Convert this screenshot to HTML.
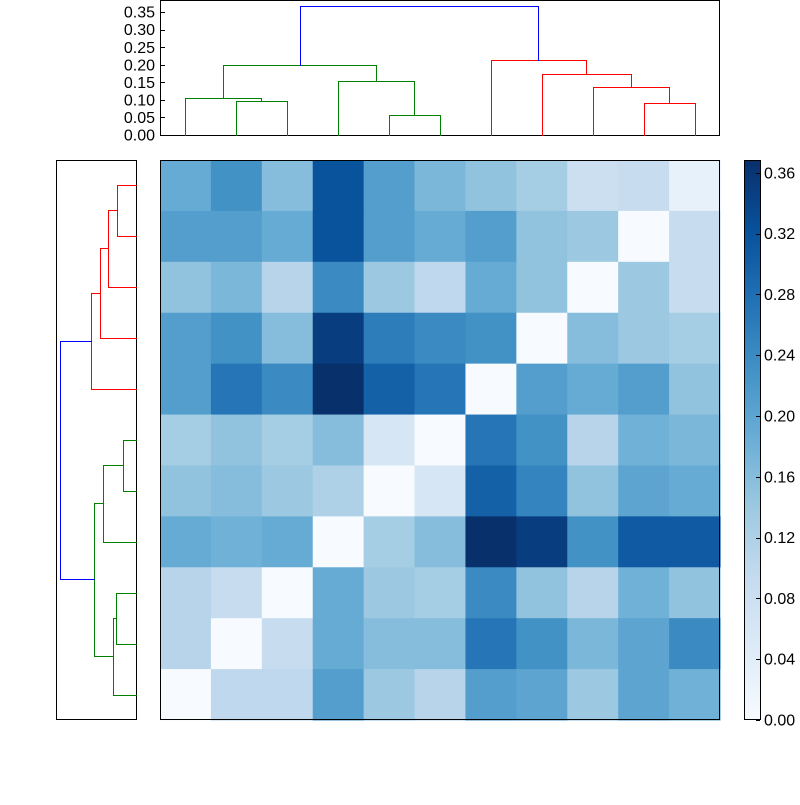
<!DOCTYPE html>
<html><head><meta charset="utf-8"><style>
body{margin:0;background:#fff;}
svg text{font-family:"Liberation Sans","DejaVu Sans",sans-serif;font-size:16px;fill:#000;}
</style></head><body>
<svg id="s" width="800" height="800" xmlns="http://www.w3.org/2000/svg">
<rect width="800" height="800" fill="#fff"/>
<g id="heat"></g>
<defs><linearGradient id="cb" x1="0" y1="1" x2="0" y2="0">
<stop offset="0" stop-color="#f7fbff"/><stop offset="0.125" stop-color="#deebf7"/><stop offset="0.25" stop-color="#c6dbef"/><stop offset="0.375" stop-color="#9ecae1"/><stop offset="0.5" stop-color="#6baed6"/><stop offset="0.625" stop-color="#4292c6"/><stop offset="0.75" stop-color="#2171b5"/><stop offset="0.875" stop-color="#08519c"/><stop offset="1" stop-color="#08306b"/></linearGradient></defs>
<rect x="160.5" y="160.5" width="559" height="559" fill="none" stroke="#000"/>
<rect x="160.5" y="0.5" width="559" height="135" fill="none" stroke="#000"/>
<rect x="56.5" y="160.5" width="80" height="559" fill="none" stroke="#000"/>
<g id="dend"></g>
<g id="tt"></g>
<rect x="744.5" y="160.5" width="16" height="559" fill="url(#cb)" stroke="#000"/>
<g id="cbt"></g>
</svg>
<script>
var V=[[.19,.23,.16,.32,.21,.17,.15,.11,.06,.07,.01],
[.21,.21,.19,.32,.21,.19,.21,.13,.12,0,.07],
[.13,.17,.09,.24,.12,.08,.19,.15,0,.12,.07],
[.21,.23,.16,.35,.26,.24,.23,0,.16,.12,.11],
[.21,.27,.24,.37,.30,.27,0,.21,.19,.21,.15],
[.11,.15,.11,.14,.04,0,.27,.23,.09,.18,.17],
[.13,.14,.12,.10,0,.04,.30,.25,.13,.20,.19],
[.19,.18,.19,0,.11,.14,.37,.35,.23,.31,.31],
[.09,.07,0,.19,.12,.11,.24,.15,.09,.18,.15],
[.09,0,.07,.19,.14,.14,.27,.23,.17,.20,.24],
[0,.08,.08,.21,.12,.09,.21,.20,.12,.20,.18]];
var st=["f7fbff","deebf7","c6dbef","9ecae1","6baed6","4292c6","2171b5","08519c","08306b"].map(h=>[0,2,4].map(i=>parseInt(h.substr(i,2),16)));
function col(v){if(v>0&&v<0.15)v+=0.02;var t=Math.max(0,Math.min(1,v/0.3686))*8,i=Math.min(7,Math.floor(t)),f=t-i;
return "rgb("+[0,1,2].map(k=>Math.round(st[i][k]+(st[i+1][k]-st[i][k])*f)).join(",")+")";}
var w=560/11,h="";
for(var r=0;r<11;r++)for(var c=0;c<11;c++){h+='<rect x="'+(160+c*w)+'" y="'+(160+r*w)+'" width="'+(w+0.6)+'" height="'+(w+0.6)+'" fill="'+col(V[r][c])+'"/>';}
document.getElementById("heat").innerHTML=h;
// dendrograms as polylines -> 1px rects
var P=[
["#008000","M185 135V98H261V101 M236 135V101H287V135 M223 98V65H376V81 M338 135V81H414V115 M389 135V115H440V135"],
["#ff0000","M491 135V60H586V74 M542 135V74H631V87 M593 135V87H669V103 M644 135V103H695V135"],
["#0000ff","M300 65V6H538V60"],
["#ff0000","M136 185H117V236H136 M117 210H108V287H136 M108 248H100V338H136 M100 293H91V389H136"],
["#008000","M136 440H123V491H136 M123 465H103V542H136 M136 593H116V644H136 M116 618H113V695H136 M103 503H94V656H113"],
["#0000ff","M91 341H60V579H94"]];
var d="";
P.forEach(function(p){var toks=p[1].match(/[MHV]|\d+/g),x=0,y=0,i=0;
while(i<toks.length){var c=toks[i++],n=+toks[i++];
if(c=="M"){x=n;y=toks[i++]*1;}
else if(c=="H"){d+='<rect x="'+Math.min(x,n)+'" y="'+y+'" width="'+(Math.abs(n-x)+1)+'" height="1" fill="'+p[0]+'"/>';x=n;}
else {d+='<rect x="'+x+'" y="'+Math.min(y,n)+'" width="1" height="'+(Math.abs(n-y)+1)+'" fill="'+p[0]+'"/>';y=n;}}});
document.getElementById("dend").innerHTML=d;
var t="";for(var i=0;i<=7;i++){var y=135-i*17.55;t+='<text x="155" y="'+(y+5.5)+'" text-anchor="end">'+(i*0.05).toFixed(2)+'</text><rect x="160" y="'+Math.round(y)+'" width="5" height="1" fill="#000"/>';}
document.getElementById("tt").innerHTML=t;
t="";for(var i=0;i<=9;i++){var y=720-i*60.8;t+='<text x="764" y="'+(y+5.5)+'">'+(i*0.04).toFixed(2)+'</text><rect x="756" y="'+Math.round(y)+'" width="4" height="1" fill="#000"/>';}
document.getElementById("cbt").innerHTML=t;
</script>
</body></html>
